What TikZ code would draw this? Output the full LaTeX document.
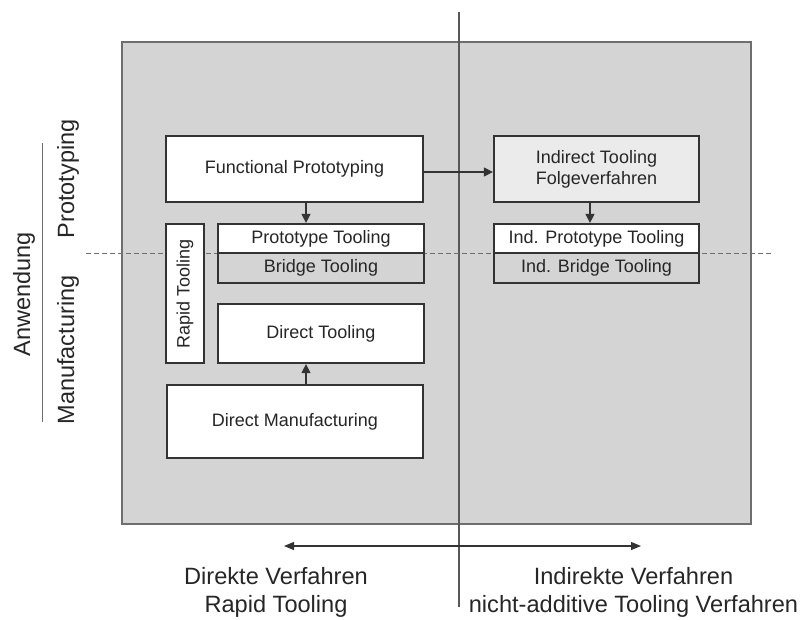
\documentclass[tikz,border=0pt]{standalone}
\usepackage{fontspec}
\setmainfont{Liberation Sans}
\usetikzlibrary{arrows.meta}
\definecolor{panel}{HTML}{D4D4D4}
\definecolor{paneledge}{HTML}{6E6E6E}
\definecolor{boxedge}{HTML}{333333}
\definecolor{ink}{HTML}{262626}
\definecolor{softfill}{HTML}{EBEBEB}
\tikzset{
  box/.style={draw=boxedge, line width=2.2pt, fill=white, inner sep=0pt,
    text=ink, font=\fontsize{18}{21}\selectfont, align=center},
  graybox/.style={box, fill=panel},
  flow/.style={draw=boxedge, line width=1.2pt,
    -{Triangle[length=9pt,width=9pt]}},
  biglabel/.style={text=ink, font=\fontsize{23.5}{28}\selectfont, align=center, inner sep=0pt},
}
\begin{document}
\begin{tikzpicture}[x=1pt, y=-1pt]
  \useasboundingbox (0,0) rectangle (803,619);

  % background panel
  \draw[paneledge, line width=1.5pt, fill=panel] (122,42) rectangle (751,524);

  % separator between direct and indirect methods
  \draw[paneledge!80!black, line width=1.3pt] (459,12) -- (459,607);

  % separator between prototyping and manufacturing
  \draw[paneledge, line width=1pt, dash pattern=on 5pt off 3pt] (86,253) -- (773,253);

  % left side: direct methods
  \node[box, minimum width=257pt, minimum height=66pt] (fp) at (294.5,169) {Functional Prototyping};
  \node[box, minimum width=206pt, minimum height=29pt] (pt) at (321,238.5) {Prototype Tooling};
  \node[graybox, minimum width=206pt, minimum height=30pt] (bt) at (321,268) {Bridge Tooling};
  \node[box, minimum width=139pt, minimum height=38pt, rotate=90] (rt) at (185,293.5) {Rapid Tooling};
  \node[box, minimum width=206pt, minimum height=59pt] (dt) at (321,333.5) {Direct Tooling};
  \node[box, minimum width=256pt, minimum height=73pt] (dm) at (295,421.5) {Direct Manufacturing};

  % right side: indirect methods
  \node[box, fill=softfill, minimum width=205pt, minimum height=66pt] (it) at (596.5,169) {Indirect Tooling\\Folgeverfahren};
  \node[box, minimum width=205pt, minimum height=29pt] (ipt) at (596.5,238.5) {Ind. Prototype Tooling};
  \node[graybox, minimum width=205pt, minimum height=30pt] (ibt) at (596.5,268) {Ind. Bridge Tooling};

  % connectors
  \draw[flow] (fp.south -| 306,0) -- (pt.north -| 306,0);
  \draw[flow] (dm.north -| 306,0) -- (dt.south -| 306,0);
  \draw[flow] (fp.east |- 0,172) -- (it.west |- 0,172);
  \draw[flow] (it.south -| 590,0) -- (ipt.north -| 590,0);

  % axis labels, left
  \draw[paneledge, line width=1pt] (42,143) -- (42,422);
  \node[biglabel, rotate=90] (anw) at (24,294) {Anwendung};
  \node[biglabel, rotate=90] (proto) at (68,179) {Prototyping};
  \node[biglabel, rotate=90] (manu) at (68,350) {Manufacturing};

  % axis labels, bottom
  \coordinate (al) at (284,546);
  \coordinate (ar) at (641,546);
  \draw[boxedge, line width=1.2pt, {Triangle[length=10pt,width=8pt]}-{Triangle[length=10pt,width=8pt]}] (al) -- (ar);
  \node[biglabel, font=\fontsize{23.6}{28}\selectfont] (dir) at (276,592) {Direkte Verfahren\\Rapid Tooling};
  \node[biglabel, font=\fontsize{23.6}{28}\selectfont] (ind) at (633.5,592) {Indirekte Verfahren\\nicht-additive Tooling Verfahren};
\end{tikzpicture}
\end{document}
